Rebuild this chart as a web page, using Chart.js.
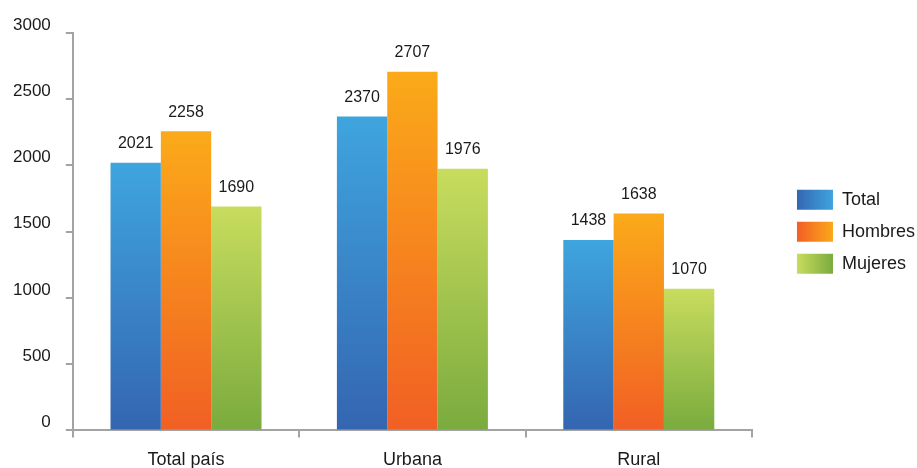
<!DOCTYPE html>
<html>
<head>
<meta charset="utf-8">
<script src="https://cdn.jsdelivr.net/npm/chart.js@4"></script>
<style>
  html, body { margin: 0; padding: 0; background: #ffffff; }
  #wrap { width: 917px; height: 468px; }
</style>
</head>
<body>
<div id="wrap"><canvas id="grafico"></canvas></div>
<script>
const categorie = ['Total país', 'Urbana', 'Rural'];
const totale = [2021, 2370, 1438];
const hombres = [2258, 2707, 1638];
const mujeres = [1690, 1976, 1070];
const tickY = [0, 500, 1000, 1500, 2000, 2500, 3000];

// colori: [basso, alto]
const sfumature = [
    ['#3465b0', '#3fa5de'], // Total
    ['#f15f24', '#fbaa19'], // Hombres
    ['#7aab3e', '#c8dc5e']  // Mujeres
];
// legenda: [sinistra, destra]
const sfumatureLegenda = [
    ['#3466b2', '#3fa4dd'],
    ['#f15f24', '#fba81a'],
    ['#c8dc5e', '#7aab3e']
];

const fontBase = "'Liberation Sans', Arial, sans-serif";
const larghezzaExtra = 25; // legenda più larga
const spostaLegenda = 33;  // voci spostate a destra

function sfondoBarra(i) {
    return function (context) {
        const chart = context.chart;
        const area = chart.chartArea;
        if (!area || context.parsed === undefined) return sfumature[i][0];
        const y = chart.scales.y;
        const top = y.getPixelForValue(context.parsed.y);
        const bottom = y.getPixelForValue(0);
        const g = chart.ctx.createLinearGradient(0, bottom, 0, top);
        g.addColorStop(0, sfumature[i][0]);
        g.addColorStop(1, sfumature[i][1]);
        return g;
    };
}

const etichetteValori = {
    id: 'etichetteValori',
    afterDatasetsDraw(chart) {
        const ctx = chart.ctx;
        ctx.save();
        ctx.font = '16px ' + fontBase;
        ctx.fillStyle = '#1a1a1a';
        ctx.textAlign = 'center';
        ctx.textBaseline = 'bottom';
        chart.data.datasets.forEach((ds, i) => {
            chart.getDatasetMeta(i).data.forEach((bar, j) => {
                ctx.fillText(ds.data[j], bar.x, bar.y - 11);
            });
        });
        ctx.restore();
    }
};

// legenda spostata a destra, con spazio dal grafico
const legendaSfumata = {
    id: 'legendaSfumata',
    afterInit(chart) {
        const leg = chart.legend;
        if (!leg) return;
        const fitOrig = leg.fit.bind(leg);
        leg.fit = function () {
            fitOrig();
            this.width += larghezzaExtra;
        };
    },
    afterLayout(chart) {
        const leg = chart.legend;
        if (leg) leg.left += spostaLegenda;
    },
    beforeDraw(chart) {
        const leg = chart.legend;
        if (!leg || !leg.legendHitBoxes) return;
        const bw = leg.options.labels.boxWidth;
        leg.legendHitBoxes.forEach((hb, i) => {
            const g = chart.ctx.createLinearGradient(hb.left, 0, hb.left + bw, 0);
            g.addColorStop(0, sfumatureLegenda[i][0]);
            g.addColorStop(1, sfumatureLegenda[i][1]);
            leg.legendItems[i].fillStyle = g;
        });
    }
};

const ctx = document.getElementById('grafico').getContext('2d');
new Chart(ctx, {
    type: 'bar',
    data: {
        labels: categorie,
        datasets: [
            { label: 'Total', data: totale, backgroundColor: sfondoBarra(0) },
            { label: 'Hombres', data: hombres, backgroundColor: sfondoBarra(1) },
            { label: 'Mujeres', data: mujeres, backgroundColor: sfondoBarra(2) }
        ]
    },
    options: {
        responsive: true,
        maintainAspectRatio: false,
        animation: false,
        categoryPercentage: 0.667,
        barPercentage: 1,
        layout: { padding: { top: 33, left: -2, right: 0, bottom: -15 } },
        plugins: {
            legend: {
                position: 'right',
                fullSize: false,
                labels: {
                    boxWidth: 36,
                    boxHeight: 20,
                    padding: 12,
                    color: '#1a1a1a',
                    font: { size: 18, family: fontBase }
                }
            },
            tooltip: { enabled: false }
        },
        scales: {
            x: {
                grid: {
                    offset: true,
                    drawOnChartArea: false,
                    drawTicks: true,
                    tickLength: 7,
                    color: '#a3a3a3',
                    lineWidth: 2
                },
                border: { color: '#a3a3a3', width: 2 },
                ticks: {
                    color: '#1a1a1a',
                    padding: 12,
                    font: { size: 18, family: fontBase }
                }
            },
            y: {
                min: 0,
                max: 3000,
                afterBuildTicks(axis) {
                    axis.ticks = tickY.map(v => ({ value: v }));
                },
                grid: {
                    drawOnChartArea: false,
                    drawTicks: true,
                    tickLength: 7,
                    color: '#a3a3a3',
                    lineWidth: 2
                },
                border: { color: '#a3a3a3', width: 2 },
                ticks: {
                    color: '#1a1a1a',
                    padding: 15,
                    labelOffset: -8,
                    font: { size: 17, family: fontBase },
                    callback: v => String(v)
                }
            }
        }
    },
    plugins: [etichetteValori, legendaSfumata]
});
</script>
</body>
</html>
